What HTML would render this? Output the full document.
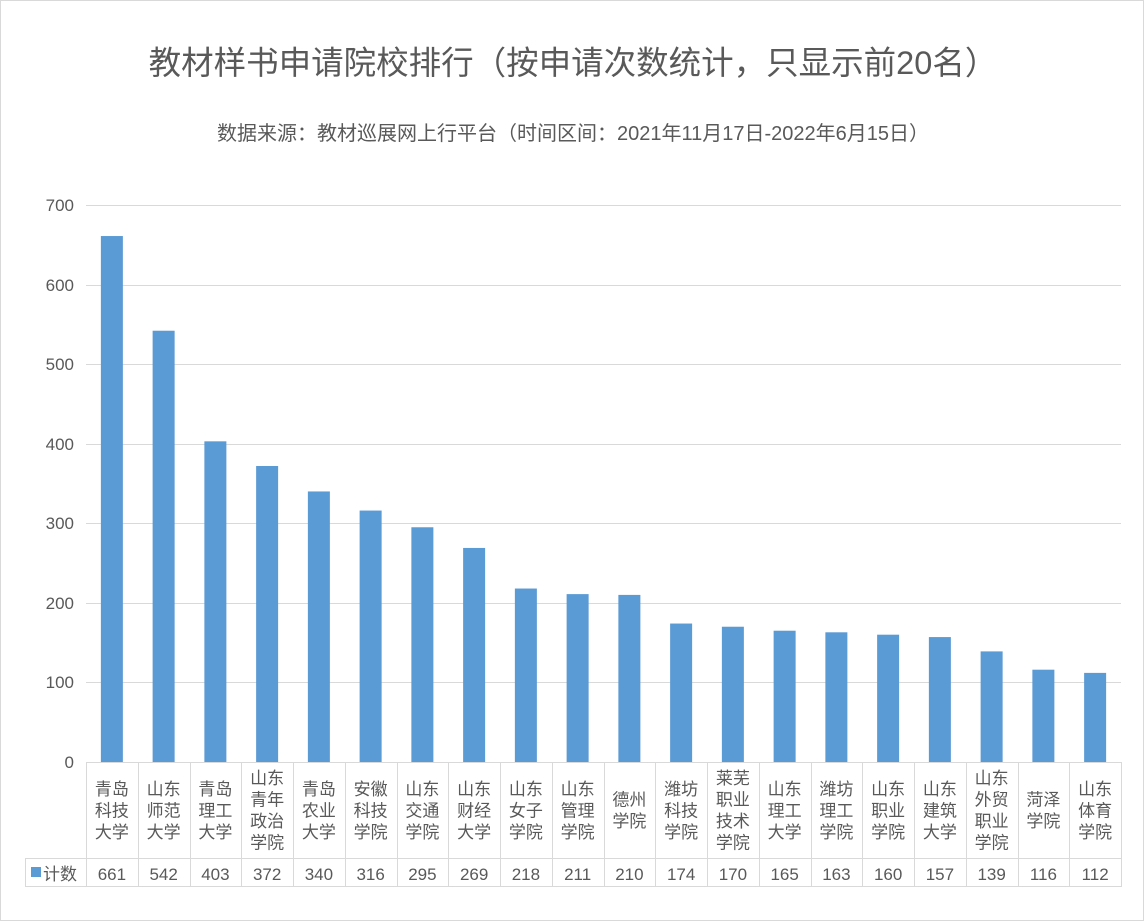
<!DOCTYPE html><html><head><meta charset="utf-8"><style>body{margin:0;background:#fff}svg{display:block;font-family:"Liberation Sans","Noto Sans CJK SC",sans-serif}</style></head><body>
<svg width="1146" height="924" viewBox="0 0 1146 924">
<rect x="0.5" y="0.5" width="1143" height="920" fill="#fff" stroke="#d9d9d9"/>
<text x="573" y="74" font-size="32.5" fill="#595959" text-anchor="middle">教材样书申请院校排行（按申请次数统计，只显示前20名）</text>
<text x="573" y="140" font-size="20" fill="#595959" text-anchor="middle">数据来源：教材巡展网上行平台（时间区间：2021年11月17日-2022年6月15日）</text>
<g stroke="#d9d9d9" stroke-width="1">
<line x1="86" x2="1121" y1="205.5" y2="205.5"/><line x1="86" x2="1121" y1="285.5" y2="285.5"/><line x1="86" x2="1121" y1="364.5" y2="364.5"/><line x1="86" x2="1121" y1="444.5" y2="444.5"/><line x1="86" x2="1121" y1="523.5" y2="523.5"/><line x1="86" x2="1121" y1="603.5" y2="603.5"/><line x1="86" x2="1121" y1="682.5" y2="682.5"/>
</g>
<g font-size="17" fill="#595959" text-anchor="end">
<text x="74" y="211">700</text><text x="74" y="291">600</text><text x="74" y="370">500</text><text x="74" y="450">400</text><text x="74" y="529">300</text><text x="74" y="609">200</text><text x="74" y="688">100</text><text x="74" y="768">0</text>
</g>
<g id="bars" fill="#5b9bd5"></g>
<g id="tbl" stroke="#d9d9d9" stroke-width="1" fill="none"></g>
<g id="txt" font-size="17" fill="#595959" text-anchor="middle"></g>
<rect x="31" y="867" width="10" height="10" fill="#5b9bd5"/>
<text x="43" y="880" font-size="17" fill="#595959">计数</text>
</svg>
<script>
var d=[["青岛科技大学",661],["山东师范大学",542],["青岛理工大学",403],["山东青年政治学院",372],["青岛农业大学",340],["安徽科技学院",316],["山东交通学院",295],["山东财经大学",269],["山东女子学院",218],["山东管理学院",211],["德州学院",210],["潍坊科技学院",174],["莱芜职业技术学院",170],["山东理工大学",165],["潍坊理工学院",163],["山东职业学院",160],["山东建筑大学",157],["山东外贸职业学院",139],["菏泽学院",116],["山东体育学院",112]];
var ns="http://www.w3.org/2000/svg",x0=86,w=51.75,y0=762,s=557/700;
var b=document.getElementById('bars'),t=document.getElementById('tbl'),tx=document.getElementById('txt');
function el(p,n,a,c){var e=document.createElementNS(ns,n);for(var k in a)e.setAttribute(k,a[k]);if(c)e.textContent=c;p.appendChild(e);}
d.forEach(function(r,i){var cx=x0+w*i+w/2,h=r[1]*s;
el(b,'rect',{x:cx-11,y:y0-h,width:22,height:h});
var s2=r[0],lines=[];for(var j=0;j<s2.length;j+=2)lines.push(s2.substr(j,2));
var lh=21.5,top=810-lines.length*lh/2;
lines.forEach(function(l,k){el(tx,'text',{x:cx,y:top+k*lh+17},l)});
el(tx,'text',{x:cx,y:880},r[1]);
el(t,'line',{x1:Math.round(x0+w*i)+.5,x2:Math.round(x0+w*i)+.5,y1:762,y2:886});
});
el(t,'line',{x1:1121.5,x2:1121.5,y1:762,y2:886});
el(t,'line',{x1:25.5,x2:25.5,y1:858,y2:886});
el(t,'line',{x1:25,x2:1122,y1:858.5,y2:858.5});
el(t,'line',{x1:25,x2:1122,y1:886.5,y2:886.5});
el(t,'line',{x1:86,x2:1122,y1:762.5,y2:762.5});
</script>
</body></html>
